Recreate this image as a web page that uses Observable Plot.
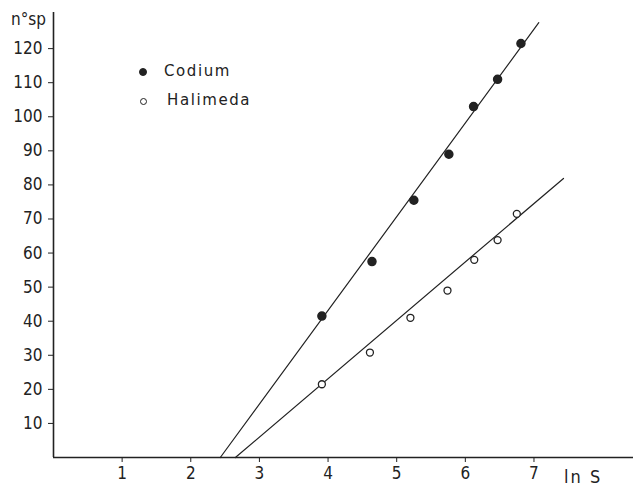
<!DOCTYPE html>
<html>
<head>
<meta charset="utf-8">
<script src="https://cdn.jsdelivr.net/npm/d3@7"></script>
<script src="https://cdn.jsdelivr.net/npm/@observablehq/plot@0.6"></script>
<style>
  body { margin: 0; background: #fff; }
  #wrap { position: relative; width: 635px; height: 486px; background: #fff; }
  .lab { position: absolute; font-family: "Liberation Sans Narrow", "DejaVu Sans Condensed", "Liberation Sans", sans-serif; font-size: 17px; color: #222; white-space: nowrap; line-height: 1; }
  .leg { position: absolute; font-family: "DejaVu Sans", sans-serif; font-size: 15px; letter-spacing: 1.6px; color: #222; white-space: nowrap; line-height: 1; }
  .sym { position: absolute; border-radius: 50%; box-sizing: border-box; }
</style>
</head>
<body>
<div id="wrap"></div>
<script>
// Data
const codiumX = [3.91, 4.64, 5.25, 5.76, 6.12, 6.47, 6.81];
const codiumY = [41.5, 57.5, 75.5, 89, 103, 111, 121.5];
const halimedaX = [3.91, 4.61, 5.20, 5.74, 6.13, 6.47, 6.75];
const halimedaY = [21.5, 30.8, 41, 49, 58, 63.8, 71.5];
// fitted regression lines (end points)
const codiumLineX = [2.43, 7.07];
const codiumLineY = [0, 127.6];
const halimedaLineX = [2.65, 7.43];
const halimedaLineY = [0, 81.9];
const xTicks = [1, 2, 3, 4, 5, 6, 7];
const yTicks = [10, 20, 30, 40, 50, 60, 70, 80, 90, 100, 110, 120];
const seriesNames = ["Codium", "Halimeda"];
const xLabel = "ln S";
const yLabel = "n°sp";

const codium = codiumX.map((x, i) => ({x, y: codiumY[i]}));
const halimeda = halimedaX.map((x, i) => ({x, y: halimedaY[i]}));
const codiumLine = codiumLineX.map((x, i) => ({x, y: codiumLineY[i]}));
const halimedaLine = halimedaLineX.map((x, i) => ({x, y: halimedaLineY[i]}));

const ink = "#222";
const chart = Plot.plot({
  width: 635,
  height: 486,
  marginLeft: 53,
  marginRight: 2,
  marginTop: 12,
  marginBottom: 29,
  style: {
    fontFamily: '"Liberation Sans Narrow", "DejaVu Sans Condensed", "Liberation Sans", sans-serif',
    fontSize: "17px",
    color: ink,
    background: "white"
  },
  x: {domain: [0, 8.45], ticks: xTicks, tickSize: 5, tickPadding: 4, label: null, tickFormat: d => String(d)},
  y: {domain: [0, 130.6], ticks: yTicks, tickSize: 5, tickPadding: 6, label: null, tickFormat: d => String(d)},
  marks: [
    Plot.ruleX([0], {stroke: ink, strokeWidth: 1.6}),
    Plot.ruleY([0], {stroke: ink, strokeWidth: 1.6}),
    Plot.line(codiumLine, {x: "x", y: "y", stroke: ink, strokeWidth: 1.2}),
    Plot.line(halimedaLine, {x: "x", y: "y", stroke: ink, strokeWidth: 1.2}),
    Plot.dot(codium, {x: "x", y: "y", r: 4, fill: ink, stroke: ink}),
    Plot.dot(halimeda, {x: "x", y: "y", r: 3.5, fill: "white", stroke: ink, strokeWidth: 1.3})
  ]
});
const wrap = document.getElementById("wrap");
wrap.appendChild(chart);

function addText(cls, text, left, top, extra) {
  const d = document.createElement("div");
  d.className = cls;
  d.textContent = text;
  d.style.left = left + "px";
  d.style.top = top + "px";
  if (extra) Object.assign(d.style, extra);
  wrap.appendChild(d);
}
function addSym(filled, cx, cy, r) {
  const d = document.createElement("div");
  d.className = "sym";
  d.style.left = (cx - r) + "px";
  d.style.top = (cy - r) + "px";
  d.style.width = (2 * r) + "px";
  d.style.height = (2 * r) + "px";
  d.style.background = filled ? ink : "white";
  d.style.border = "1.3px solid " + ink;
  wrap.appendChild(d);
}
addText("lab", yLabel, 11, 11);
addText("lab", xLabel, 564, 468, {fontSize: "18px", letterSpacing: "2px"});
addSym(true, 143, 72, 4);
addText("leg", seriesNames[0], 164, 64);
addSym(false, 143, 101, 3.5);
addText("leg", seriesNames[1], 167, 93);
</script>
</body>
</html>
